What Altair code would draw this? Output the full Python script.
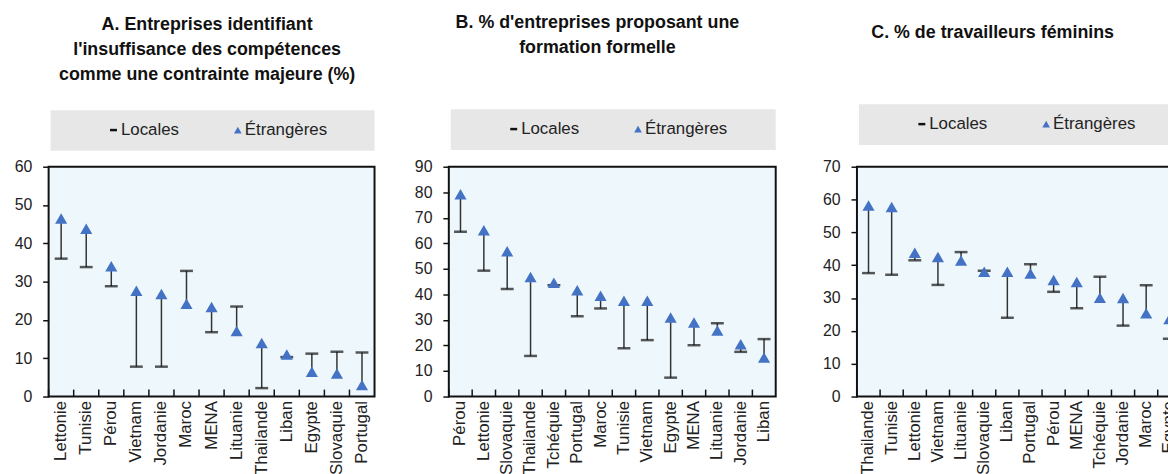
import altair as alt
import pandas as pd

# ---------------- data ----------------
cats_a = ["Lettonie", "Tunisie", "Pérou", "Vietnam", "Jordanie", "Maroc", "MENA",
          "Lituanie", "Thailande", "Liban", "Egypte", "Slovaquie", "Portugal"]
loc_a = [36.0, 33.8, 28.8, 7.8, 7.8, 32.8, 16.8, 23.5, 2.2, 10.3, 11.2, 11.7, 11.5]
etr_a = [46.5, 43.8, 34.0, 27.6, 26.8, 24.2, 23.4, 17.1, 14.0, 11.0, 6.5, 6.0, 3.0]

cats_b = ["Pérou", "Lettonie", "Slovaquie", "Thailande", "Tchéquie", "Portugal", "Maroc",
          "Tunisie", "Vietnam", "Egypte", "MENA", "Lituanie", "Jordanie", "Liban"]
loc_b = [64.5, 49.3, 42.1, 15.9, 43.6, 31.4, 34.5, 18.9, 22.1, 7.4, 20.1, 28.7, 17.5, 22.5]
etr_b = [79.2, 65.1, 56.9, 46.8, 44.6, 41.6, 39.5, 37.5, 37.5, 31.0, 29.0, 25.9, 20.5, 15.3]

cats_c = ["Thailande", "Tunisie", "Lettonie", "Vietnam", "Lituanie", "Slovaquie", "Liban",
          "Portugal", "Pérou", "MENA", "Tchéquie", "Jordanie", "Maroc", "Egypte"]
loc_c = [37.6, 37.1, 41.5, 34.0, 44.0, 38.3, 24.0, 40.3, 31.9, 26.9, 36.5, 21.6, 33.9, 17.6]
etr_c = [58.2, 57.7, 43.8, 42.5, 41.4, 38.0, 38.0, 37.5, 35.5, 34.9, 30.1, 30.0, 25.4, 23.6]

title_a = ["A. Entreprises identifiant", "l'insuffisance des compétences",
           "comme une contrainte majeure (%)"]
title_b = ["B. % d'entreprises proposant une", "formation formelle"]
title_c = ["C. % de travailleurs féminins"]
legend_labels = ["Locales", "Étrangères"]

FONT = "Liberation Sans, Arial, sans-serif"
BLUE = "#4472C4"
H = 232


def panel(cats, loc, etr, ymax, width, tlines, tcx, ty0, legy, lpad):
    df = pd.DataFrame({"pays": cats, "locales": loc, "etrangeres": etr})
    xscale = alt.Scale(paddingInner=0, paddingOuter=0)
    xaxis = alt.Axis(title=None, labelAngle=-90, labelFontSize=17, labelFont=FONT,
                     labelColor="#222", ticks=False, domain=False, labelPadding=4,
                     labelAlign="right", labelBaseline="middle")
    yscale = alt.Scale(domain=[0, ymax], nice=False)
    yaxis = alt.Axis(title=None, values=list(range(0, ymax + 1, 10)), domain=False,
                     grid=False, tickSize=6, tickColor="#111", tickWidth=1.5,
                     labelFontSize=16, labelFont=FONT, labelColor="#222", labelPadding=11)

    def X(**kw):
        return alt.X("pays:N", sort=cats, scale=xscale, axis=xaxis, **kw)

    def Y(f):
        return alt.Y(f + ":Q", scale=yscale, axis=yaxis)

    base = alt.Chart(df)
    xticks = base.mark_rule(color="#111", strokeWidth=1.5).encode(
        x=X(bandPosition=0), y=alt.value(H - 7), y2=alt.value(H))
    rule = base.mark_rule(color="#333", strokeWidth=1.5).encode(
        x=X(), y=Y("locales"), y2="etrangeres:Q")
    cap = base.mark_tick(color="#111", size=13, thickness=2.5).encode(
        x=X(), y=Y("locales"))
    tri = base.mark_point(shape="triangle-up", filled=True, size=150, color=BLUE,
                          opacity=1).encode(x=X(), y=Y("etrangeres"))

    one = alt.Chart(pd.DataFrame({"k": [0]}))
    layers = [xticks, rule, cap, tri]
    # anchor to align panels
    layers.append(one.mark_rule(opacity=0).encode(
        x=alt.value(-lpad), x2=alt.value(width), y=alt.value(-157)))
    # legend box
    layers.append(one.mark_rect(fill="#e7e7e7").encode(
        x=alt.value(2), x2=alt.value(width), y=alt.value(legy - 20), y2=alt.value(legy + 21)))
    layers.append(one.mark_rule(color="#111", strokeWidth=2.5).encode(
        x=alt.value(62), x2=alt.value(69), y=alt.value(legy)))
    layers.append(one.mark_text(align="left", baseline="middle", fontSize=17, font=FONT,
                                color="#222").encode(
        x=alt.value(73), y=alt.value(legy), text=alt.value(legend_labels[0])))
    layers.append(one.mark_point(shape="triangle-up", filled=True, size=60, color=BLUE,
                                 opacity=1).encode(x=alt.value(191), y=alt.value(legy)))
    layers.append(one.mark_text(align="left", baseline="middle", fontSize=17, font=FONT,
                                color="#222").encode(
        x=alt.value(198), y=alt.value(legy), text=alt.value(legend_labels[1])))
    # title lines
    for i, line in enumerate(tlines):
        layers.append(one.mark_text(align="center", baseline="middle", fontSize=18,
                                    font=FONT, fontWeight="bold", color="#111").encode(
            x=alt.value(tcx), y=alt.value(ty0 + i * 25), text=alt.value(line)))
    return alt.layer(*layers).properties(width=width, height=H)


pa = panel(cats_a, loc_a, etr_a, 60, 329, title_a, 160, -143, -37, 40)
pb = panel(cats_b, loc_b, etr_b, 90, 330, title_b, 150, -145, -38, 73)
pc = panel(cats_c, loc_c, etr_c, 70, 327, title_c, 137, -135, -43, 80)

chart = alt.hconcat(pa, pb, pc, spacing=0).configure_view(
    fill="#eef8fc", stroke="#111", strokeWidth=2
).properties(padding={"left": 0, "top": 0, "right": -14, "bottom": 0},
             background="white")

chart.save("out.html", embed_options={"renderer": "svg", "actions": False})
